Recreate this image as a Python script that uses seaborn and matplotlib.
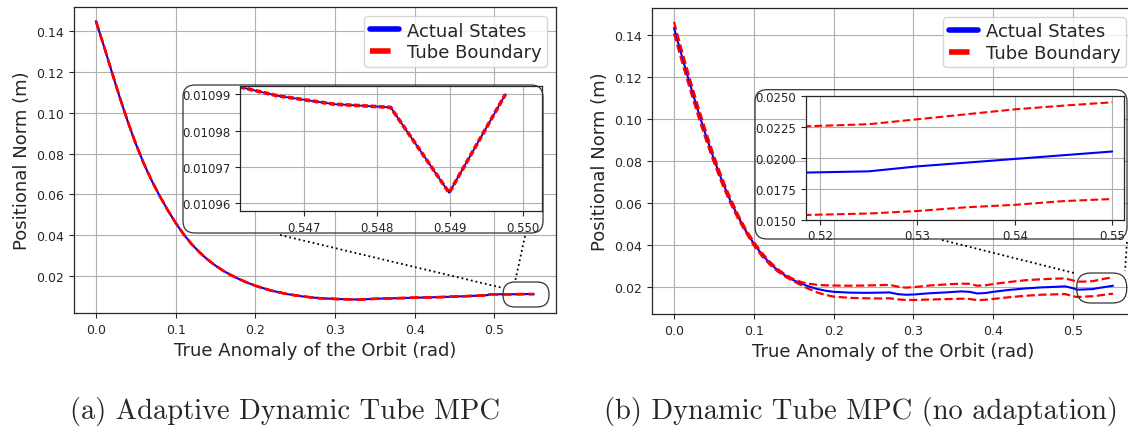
import pandas as pd
import matplotlib
matplotlib.use('Agg')
import matplotlib.pyplot as plt
import seaborn as sns
from matplotlib.patches import FancyBboxPatch
from matplotlib.lines import Line2D
from matplotlib.ticker import FormatStrFormatter
from matplotlib.transforms import IdentityTransform

# (a) adaptive dynamic tube MPC: states and tube boundary coincide
theta_a = [0.0, 0.01, 0.02, 0.03, 0.04, 0.05, 0.06, 0.07, 0.08, 0.09, 0.10,
           0.11, 0.12, 0.13, 0.14, 0.15, 0.16, 0.17, 0.18, 0.19, 0.20, 0.22,
           0.24, 0.26, 0.28, 0.30, 0.32, 0.33, 0.34, 0.36, 0.38, 0.40, 0.42,
           0.44, 0.46, 0.48, 0.49, 0.495, 0.50, 0.52, 0.54,
           0.54613, 0.54664, 0.54741, 0.54819, 0.54899, 0.54976]
actual_a = [0.1450, 0.1328, 0.1200, 0.1075, 0.0957, 0.0848, 0.0752, 0.0667,
            0.0592, 0.0523, 0.0460, 0.0404, 0.0356, 0.0315, 0.0280, 0.0250,
            0.0224, 0.0202, 0.0183, 0.0166, 0.0151, 0.0127, 0.0110, 0.0098,
            0.0090, 0.0086, 0.0084, 0.0083, 0.0085, 0.0088, 0.0090, 0.0092,
            0.0094, 0.0096, 0.0099, 0.0102, 0.0104, 0.0109, 0.0109, 0.0109,
            0.0110,
            0.010992, 0.0109896, 0.0109873, 0.0109864, 0.0109629, 0.010990]
tube_a = actual_a

# (b) dynamic tube MPC without adaptation
theta_b = [0.0, 0.01, 0.02, 0.03, 0.04, 0.05, 0.06, 0.07, 0.08, 0.09, 0.10,
           0.11, 0.12, 0.13, 0.14, 0.15, 0.16, 0.17, 0.18, 0.19, 0.20, 0.22,
           0.24, 0.26, 0.27, 0.28, 0.29, 0.30, 0.32, 0.34, 0.36, 0.37, 0.38,
           0.39, 0.40, 0.42, 0.44, 0.46, 0.48, 0.49, 0.50, 0.505, 0.5185,
           0.525, 0.53, 0.535, 0.54, 0.545, 0.55]
actual_b = [0.1437, 0.1300, 0.1168, 0.1042, 0.0922, 0.0810, 0.0708, 0.0617,
            0.0537, 0.0467, 0.0406, 0.0355, 0.0313, 0.0279, 0.0252, 0.0231,
            0.0214, 0.0200, 0.0189, 0.0181, 0.0176, 0.0172, 0.0171, 0.0172,
            0.0173, 0.0165, 0.0162, 0.0163, 0.0169, 0.0173, 0.0178, 0.0176,
            0.0168, 0.0170, 0.0176, 0.0185, 0.0192, 0.0197, 0.0200, 0.0202,
            0.0193, 0.0186, 0.0188, 0.0189, 0.0193, 0.0196, 0.0199, 0.0202,
            0.0205]
upper_b = [0.1465, 0.1326, 0.1192, 0.1064, 0.0942, 0.0826, 0.0722, 0.0629,
           0.0547, 0.0475, 0.0415, 0.0363, 0.0320, 0.0285, 0.0257, 0.0236,
           0.0222, 0.0214, 0.0209, 0.0207, 0.0206, 0.0205, 0.0206, 0.0208,
           0.0209, 0.0201, 0.0196, 0.0198, 0.0206, 0.0211, 0.0215, 0.0214,
           0.0205, 0.0207, 0.0213, 0.0223, 0.0231, 0.0236, 0.0239, 0.0240,
           0.0230, 0.0224, 0.02253, 0.0227, 0.0231, 0.0235, 0.0239, 0.0242,
           0.02447]
lower_b = [0.1410, 0.1274, 0.1144, 0.1020, 0.0902, 0.0794, 0.0694, 0.0605,
           0.0527, 0.0459, 0.0397, 0.0347, 0.0306, 0.0273, 0.0247, 0.0226,
           0.0206, 0.0188, 0.0172, 0.0161, 0.0153, 0.0147, 0.0145, 0.0144,
           0.0145, 0.0140, 0.0137, 0.0137, 0.0139, 0.0141, 0.0143, 0.0142,
           0.0136, 0.0138, 0.0142, 0.0150, 0.0157, 0.0162, 0.0164, 0.0165,
           0.0155, 0.0151, 0.01538, 0.0155, 0.0157, 0.0160, 0.0162, 0.0165,
           0.01667]

main_yticks = [0.02, 0.04, 0.06, 0.08, 0.10, 0.12, 0.14]
main_xticks = [0.0, 0.1, 0.2, 0.3, 0.4, 0.5]
inset_a_xticks = [0.547, 0.548, 0.549, 0.550]
inset_a_yticks = [0.01096, 0.01097, 0.01098, 0.01099]
inset_b_xticks = [0.52, 0.53, 0.54, 0.55]
inset_b_yticks = [0.0150, 0.0175, 0.0200, 0.0225, 0.0250]
captions = ['(a) Adaptive Dynamic Tube MPC', '(b) Dynamic Tube MPC (no adaptation)']

df_a = pd.DataFrame({'theta': theta_a, 'actual': actual_a, 'tube': tube_a})
df_b = pd.DataFrame({'theta': theta_b, 'actual': actual_b,
                     'upper': upper_b, 'lower': lower_b})

sns.set_style('ticks', {'axes.grid': True, 'grid.color': '#b0b0b0',
                        'axes.edgecolor': '.15'})
plt.rcParams['font.family'] = ['DejaVu Sans']

W, H = 1128, 439
fig = plt.figure(figsize=(W / 100, H / 100), dpi=100)


def frac(x0, y0, x1, y1):
    # pixel box (top-left origin) -> figure fractions
    return [x0 / W, 1 - y1 / H, (x1 - x0) / W, (y1 - y0) / H]


ax_a = fig.add_axes(frac(74, 8.3, 556, 314))
ax_b = fig.add_axes(frac(652, 9, 1135, 315))
in_a = fig.add_axes(frac(240, 87.3, 542, 212.3))
in_b = fig.add_axes(frac(805.7, 96.7, 1124, 220.7))

# main panel (a)
sns.lineplot(data=df_a, x='theta', y='actual', ax=ax_a, color='blue', lw=1.5,
             label='Actual States', estimator=None)
sns.lineplot(data=df_a, x='theta', y='tube', ax=ax_a, color='red', lw=1.8,
             linestyle='--', label='Tube Boundary', estimator=None)
sns.lineplot(data=df_a, x='theta', y='tube', ax=ax_a, color='red', lw=1.8,
             linestyle='--', estimator=None)

# main panel (b)
sns.lineplot(data=df_b, x='theta', y='actual', ax=ax_b, color='blue', lw=1.5,
             label='Actual States', estimator=None)
sns.lineplot(data=df_b, x='theta', y='upper', ax=ax_b, color='red', lw=1.6,
             linestyle='--', label='Tube Boundary', estimator=None)
sns.lineplot(data=df_b, x='theta', y='lower', ax=ax_b, color='red', lw=1.6,
             linestyle='--', estimator=None)

for ax, ylim in [(ax_a, (0.0017, 0.1518)), (ax_b, (0.0070, 0.1531))]:
    ax.set_xlim(-0.0275, 0.5775)
    ax.set_ylim(*ylim)
    ax.set_xticks(main_xticks)
    ax.set_yticks(main_yticks)
    ax.tick_params(labelsize=9, length=3.5, width=0.8)
    ax.set_xlabel('True Anomaly of the Orbit (rad)', fontsize=13)
    ax.set_ylabel('Positional Norm (m)', fontsize=13)
    ax.grid(True, color='#b0b0b0', lw=0.8)
    for s in ax.spines.values():
        s.set_linewidth(0.9)
    leg = ax.legend(loc='upper right', fontsize=13, handlelength=1.6,
                    handletextpad=0.45, borderpad=0.3, labelspacing=0.2,
                    borderaxespad=0.5)
    for h in leg.legend_handles:
        h.set_linewidth(4)

# inset (a)
sns.lineplot(data=df_a, x='theta', y='actual', ax=in_a, color='blue', lw=1.3,
             estimator=None, legend=False)
sns.lineplot(data=df_a, x='theta', y='tube', ax=in_a, color='red', lw=2.6,
             estimator=None, legend=False, dashes=False)
in_a.lines[-1].set_dashes((1.6, 0.7))
in_a.set_xlim(0.54613, 0.55026)
in_a.set_ylim(0.0109578, 0.0109922)
in_a.set_xticks(inset_a_xticks)
in_a.set_yticks(inset_a_yticks)
in_a.xaxis.set_major_formatter(FormatStrFormatter('%.3f'))
in_a.yaxis.set_major_formatter(FormatStrFormatter('%.5f'))

# inset (b)
sns.lineplot(data=df_b, x='theta', y='actual', ax=in_b, color='blue', lw=1.5,
             estimator=None, legend=False)
sns.lineplot(data=df_b, x='theta', y='upper', ax=in_b, color='red', lw=1.5,
             linestyle='--', estimator=None, legend=False)
sns.lineplot(data=df_b, x='theta', y='lower', ax=in_b, color='red', lw=1.5,
             linestyle='--', estimator=None, legend=False)
in_b.set_xlim(0.51853, 0.55121)
in_b.set_ylim(0.015, 0.025)
in_b.set_xticks(inset_b_xticks)
in_b.set_yticks(inset_b_yticks)
in_b.xaxis.set_major_formatter(FormatStrFormatter('%.2f'))
in_b.yaxis.set_major_formatter(FormatStrFormatter('%.4f'))

for ax in (in_a, in_b):
    ax.set_xlabel('')
    ax.set_ylabel('')
    ax.tick_params(labelsize=8.5, length=3.5, width=0.8)
    ax.grid(True, color='#b0b0b0', lw=0.8)
    ax.set_facecolor('white')
    for s in ax.spines.values():
        s.set_linewidth(0.9)

# rounded frames, zoom markers and dotted connectors (pixel coordinates)
ident = IdentityTransform()


def pill(x0, y0, x1, y1, r):
    p = FancyBboxPatch((x0, H - y1), x1 - x0, y1 - y0,
                       boxstyle=f'round,pad=0,rounding_size={r}',
                       transform=ident, fill=False, ec='#333333', lw=0.9)
    fig.patches.append(p)


pill(183, 86, 543, 234, 12)
pill(755, 90.7, 1127, 240, 12)
pill(503, 283, 549, 308, 12)
pill(1076.7, 274, 1126.7, 304, 14)

for (x0, y0), (x1, y1) in [((280, 236), (503, 289)), ((525, 237), (515, 283)),
                           ((942, 241), (1074, 274)), ((1127, 243), (1125, 272))]:
    fig.lines.append(Line2D([x0, x1], [H - y0, H - y1], transform=ident,
                            color='black', ls=':', lw=1.3))

fig.text(284.5 / W, 1 - 412 / H, captions[0], ha='center', va='center',
         family='cmr10', fontsize=20.5)
fig.text(861 / W, 1 - 412 / H, captions[1], ha='center', va='center',
         family='cmr10', fontsize=20.5)

fig.savefig('out.png', dpi=100)
